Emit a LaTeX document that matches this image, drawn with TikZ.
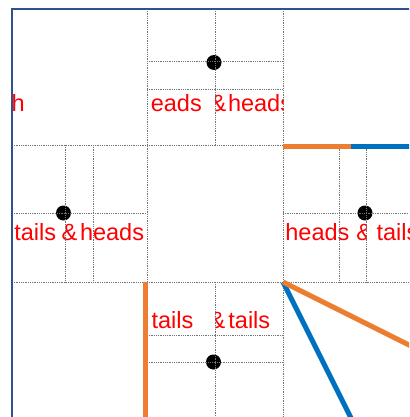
\documentclass[tikz,border=0pt]{standalone}
\usepackage{fontspec}
\setmainfont{Liberation Sans}
\definecolor{frameblue}{HTML}{2F528F}
\definecolor{lineorange}{HTML}{ED7D31}
\definecolor{lineblue}{HTML}{0070C0}
\begin{document}
\begin{tikzpicture}[x=1pt,y=-1pt,
  gridline/.style={black!55, line width=0.7pt, dash pattern=on 0.9pt off 0.9pt},
  lbl/.style={text=red, font=\fontsize{23.5}{24}\selectfont, anchor=base west, inner sep=0pt, outer sep=0pt},
  dotmark/.style={fill=black},
  colline/.style={line width=5pt},
  framebar/.style={frameblue, line width=2pt}]
\useasboundingbox (0,0) rectangle (409,417);
\clip (0,0) rectangle (409,417);

% dots
\fill[dotmark] (214,62.5) circle (7.5);
\fill[dotmark] (63.5,213) circle (7.5);
\fill[dotmark] (365,213) circle (7.5);
\fill[dotmark] (213.5,362) circle (7.5);

% labels, top row
\begin{scope}
  \clip (12,9) rectangle (147,145);
  \node[lbl] (ta) at (11.5,112) {h};
\end{scope}
\begin{scope}
  \clip (147,9) rectangle (215,145);
  \node[lbl] (tb) at (150.8,112) {eads};
\end{scope}
\begin{scope}
  \clip (215,9) rectangle (283,145);
  \node[lbl] (tc) at (210.5,112) {\&};
  \node[lbl] (td) at (228,112) {heads};
\end{scope}
% middle-left
\begin{scope}
  \clip (12,145) rectangle (147,282);
  \node[lbl] (te) at (14.3,240) {tails};
  \node[lbl] (tf) at (61.6,240) {\&};
  \node[lbl] (tg) at (80,240) {heads};
\end{scope}
% middle-right
\begin{scope}
  \clip (283,145) rectangle (366.5,282);
  \node[lbl] (th) at (285.4,240) {heads};
  \node[lbl] (ti) at (356.3,240) {\&};
\end{scope}
\begin{scope}
  \clip (366.5,145) rectangle (409,282);
  \node[lbl] (tj) at (376.6,240) {tails};
\end{scope}
% bottom-middle
\begin{scope}
  \clip (147,282) rectangle (215,417);
  \node[lbl] (tk) at (151.6,328) {tails};
\end{scope}
\begin{scope}
  \clip (215,282) rectangle (283,417);
  \node[lbl] (tl) at (209.5,328) {\&};
  \node[lbl] (tm) at (228.4,328) {tails};
\end{scope}

% main grid
\draw[gridline] (12,145) -- (409,145);
\draw[gridline] (12,282) -- (409,282);
\draw[gridline] (147,9) -- (147,417);
\draw[gridline] (283,9) -- (283,417);
% top-middle subgrid
\draw[gridline] (215,9) -- (215,145);
\draw[gridline] (147,61.5) -- (283,61.5);
\draw[gridline] (147,89) -- (283,89);
% middle-left subgrid
\draw[gridline] (65,145) -- (65,282);
\draw[gridline] (93,145) -- (93,282);
\draw[gridline] (12,213) -- (147,213);
% middle-right subgrid
\draw[gridline] (339,145) -- (339,282);
\draw[gridline] (366,145) -- (366,282);
\draw[gridline] (283,213) -- (409,213);
% bottom-middle subgrid
\draw[gridline] (215,282) -- (215,417);
\draw[gridline] (147,335) -- (283,335);
\draw[gridline] (147,362) -- (283,362);

% coloured lines
\coordinate (c) at (283,282);
\coordinate (hb) at (283,146.6);
\coordinate (hm) at (351,146.6);
\coordinate (he) at (420,146.6);
\coordinate (vb) at (145.8,281.5);
\coordinate (ve) at (145.8,430);
\coordinate (be) at (357,430);
\coordinate (oe) at (435,358);
\draw[colline, lineblue] (hm) -- (he);
\draw[colline, lineorange] (hb) -- (hm);
\draw[colline, lineorange] (vb) -- (ve);
\draw[colline, lineblue] (c) -- (be);
\draw[colline, lineorange] (c) -- (oe);

% frame
\draw[framebar] (12,430) -- (12,9) -- (430,9);
\end{tikzpicture}
\end{document}
